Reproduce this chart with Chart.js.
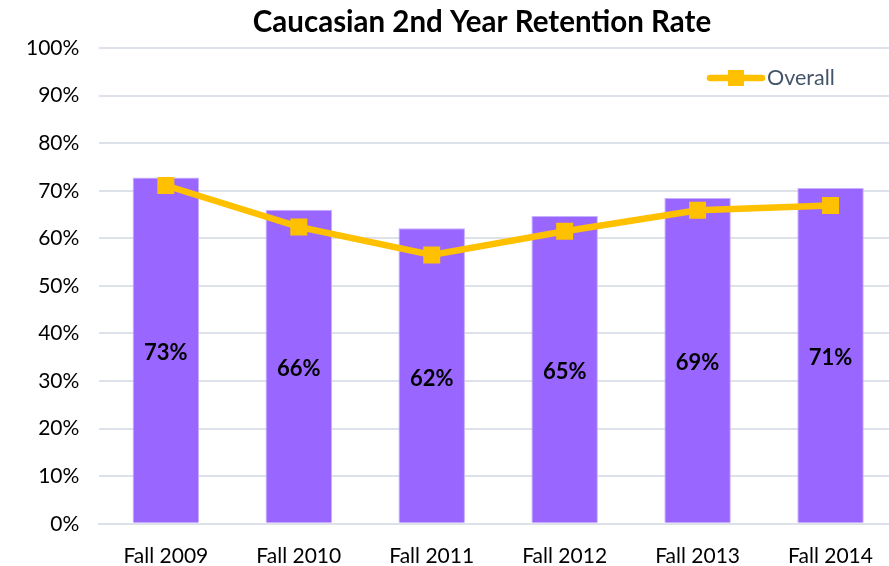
<!DOCTYPE html>
<html>
<head>
<meta charset="utf-8">
<script src="https://cdn.jsdelivr.net/npm/chart.js@4"></script>
<style>
  html, body { margin: 0; padding: 0; overflow: hidden; background: #fff; }
  #wrap { width: 909px; height: 581px; }
</style>
</head>
<body>
<div id="wrap"><canvas id="myChart"></canvas></div>
<script>
const labels = ['Fall 2009', 'Fall 2010', 'Fall 2011', 'Fall 2012', 'Fall 2013', 'Fall 2014']
const caucasian = [72.8, 66.0, 62.1, 64.7, 68.5, 70.6]
const caucasianLabels = ['73%', '66%', '62%', '65%', '69%', '71%']
const overall = [71.1, 62.4, 56.5, 61.5, 65.9, 66.9]
const titleText = 'Caucasian 2nd Year Retention Rate'

const fontName = 'Lato, "Open Sans", sans-serif'

// bar value labels + title + legend, drawn on the canvas
const extras = {
    id: 'extras',
    afterDatasetsDraw(chart) {
        const c = chart.ctx
        const meta = chart.getDatasetMeta(1)
        c.save()
        c.font = 'bold 22px ' + fontName
        c.fillStyle = '#000'
        c.textAlign = 'center'
        c.textBaseline = 'middle'
        meta.data.forEach((bar, i) => {
            const p = bar.getProps(['x', 'y', 'base'], true)
            c.fillText(caucasianLabels[i], p.x, (p.y + p.base) / 2 + 3)
        })
        c.restore()
    },
    afterDraw(chart) {
        const c = chart.ctx
        c.save()
        c.font = 'bold 29.5px ' + fontName
        c.fillStyle = '#000'
        c.textAlign = 'center'
        c.textBaseline = 'middle'
        c.fillText(titleText, 482, 22)

        // legend
        const ly = 78
        c.strokeStyle = '#FFC000'
        c.lineWidth = 6.5
        c.lineCap = 'round'
        c.beginPath()
        c.moveTo(710, ly)
        c.lineTo(762, ly)
        c.stroke()
        c.fillStyle = '#FFC000'
        c.fillRect(728, ly - 8, 16, 16)
        c.font = '21.5px ' + fontName
        c.fillStyle = '#44546A'
        c.textAlign = 'left'
        c.fillText(chart.data.datasets[0].label, 767, ly)
        c.restore()
    }
}

const ctx = document.getElementById('myChart')

const chart = new Chart(ctx, {
    type: 'bar',
    data: {
        labels: labels,
        datasets: [
            {
                type: 'line',
                label: 'Overall',
                data: overall,
                borderColor: '#FFC000',
                backgroundColor: '#FFC000',
                borderWidth: 6.5,
                pointStyle: 'rect',
                pointRadius: 12,
                pointHoverRadius: 12,
                pointBorderWidth: 0,
                tension: 0,
                order: 0
            },
            {
                label: 'Caucasian',
                data: caucasian,
                backgroundColor: '#9966FF',
                borderColor: '#C7B0FF',
                borderWidth: 1,
                barPercentage: 0.5,
                categoryPercentage: 1,
                order: 1
            }
        ]
    },
    options: {
        responsive: true,
        maintainAspectRatio: false,
        animation: false,
        layout: {
            padding: { top: 48, left: 6, right: 1, bottom: 0 }
        },
        plugins: {
            legend: { display: false },
            title: { display: false },
            tooltip: { enabled: false }
        },
        scales: {
            x: {
                grid: { display: false },
                border: { color: '#DDE2EA', width: 2 },
                ticks: {
                    color: '#000',
                    font: { family: fontName, size: 21 },
                    padding: 12,
                    maxRotation: 0
                }
            },
            y: {
                min: 0,
                max: 100,
                ticks: {
                    stepSize: 10,
                    color: '#000',
                    font: { family: fontName, size: 21 },
                    padding: 20,
                    callback: v => v + '%'
                },
                grid: { color: '#DDE2EA', lineWidth: 2, drawTicks: false },
                border: { display: false }
            }
        }
    },
    plugins: [extras]
})
</script>
</body>
</html>
